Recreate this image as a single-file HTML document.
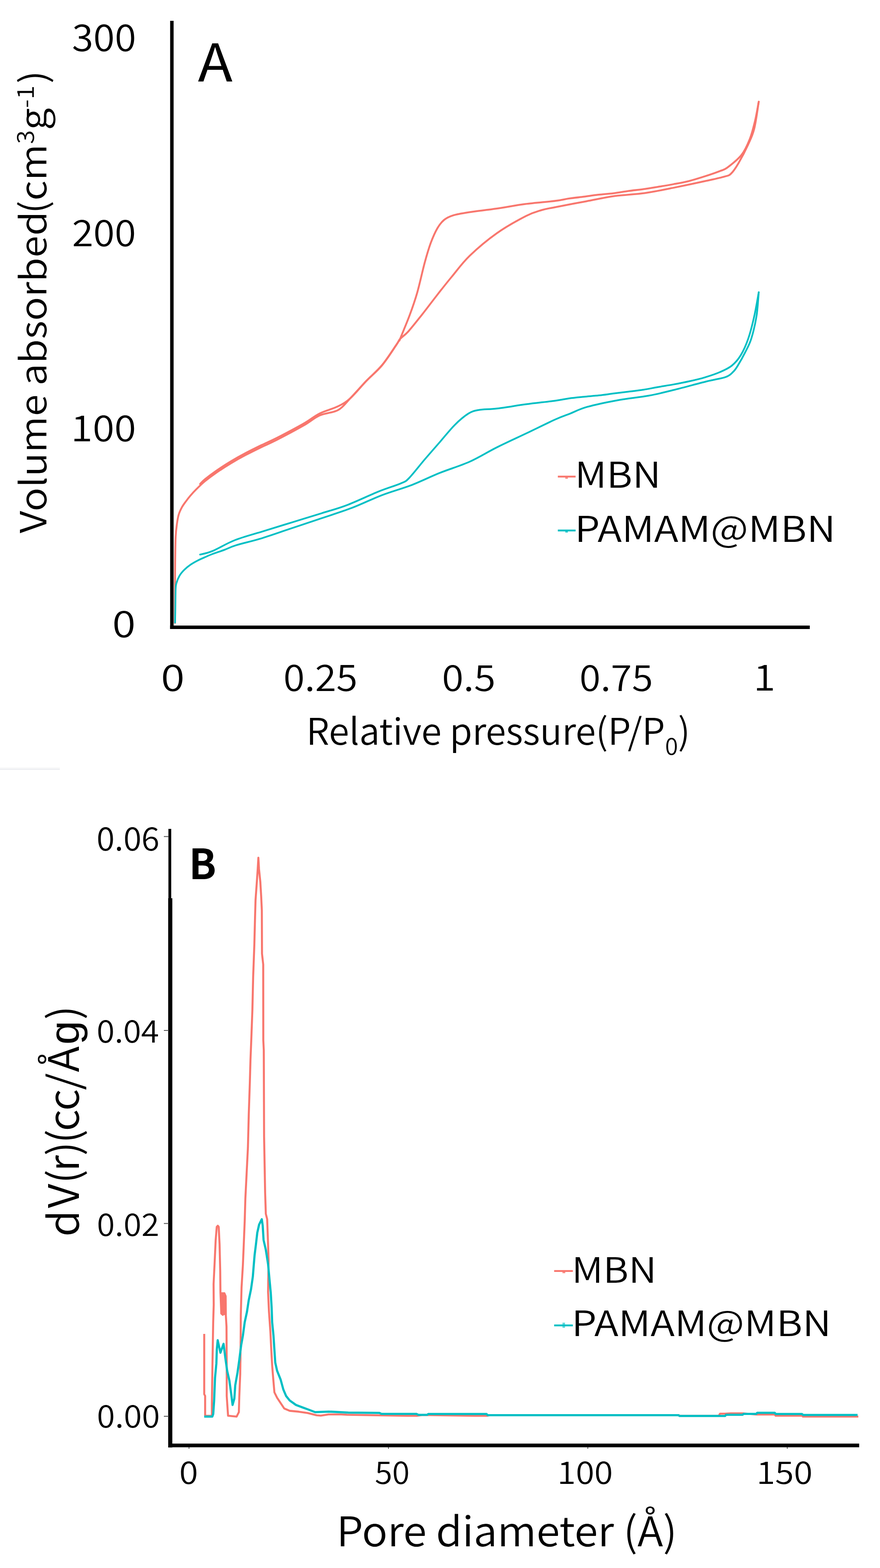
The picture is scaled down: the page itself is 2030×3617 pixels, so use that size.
<!DOCTYPE html>
<html><head><meta charset="utf-8"><title>Figure</title><style>
html,body{margin:0;padding:0;background:#fff;}
svg{display:block;}
text{font-family:"Noto Sans CJK KR","Liberation Sans",sans-serif;fill:#000;}
</style></head><body>
<svg width="2030" height="3617" viewBox="0 0 2030 3617">
<rect x="0" y="0" width="2030" height="3617" fill="#fff"/>
<rect x="0" y="1770" width="138" height="2.5" fill="#f8f8f8"/>
<rect x="0" y="1773" width="138" height="2.8" fill="#eceef1"/>
<rect x="392.5" y="48" width="8" height="1403" fill="#000"/>
<rect x="392.5" y="1443" width="1475.5" height="8" fill="#000"/>
<g fill="none" stroke-linejoin="round" stroke-linecap="round">
<path stroke="#F8766D" stroke-width="4.3" d="M403.5,1437.0 C403.5,1427.5 403.5,1402.8 403.6,1380.0 C403.7,1357.2 403.7,1323.6 404.0,1300.0 C404.3,1276.4 404.5,1254.0 405.2,1238.6 C405.9,1223.2 407.1,1216.2 408.3,1207.5 C409.5,1198.8 410.5,1192.9 412.4,1186.7 C414.3,1180.5 417.1,1174.9 419.7,1170.1 C422.3,1165.3 424.7,1162.2 428.0,1157.7 C431.3,1153.2 435.1,1148.2 439.4,1143.2 C443.7,1138.2 448.4,1133.1 453.9,1127.6 C459.4,1122.1 465.3,1116.1 472.6,1110.1 C479.9,1104.1 487.5,1098.3 497.5,1091.4 C507.5,1084.5 521.4,1075.5 532.8,1068.6 C544.2,1061.7 554.2,1056.1 566.0,1049.9 C577.8,1043.7 591.2,1037.1 603.3,1031.2 C615.4,1025.3 622.5,1022.9 638.6,1014.6 C654.7,1006.4 683.5,991.1 700.0,981.7 C716.5,972.3 724.0,964.2 737.3,958.2 C750.6,952.2 768.2,952.5 780.0,945.9 C791.8,939.3 797.5,929.7 808.3,918.5 C819.1,907.3 832.8,891.5 845.0,878.8 C857.2,866.1 869.8,856.3 881.3,842.5 C892.8,828.7 907.2,805.9 914.1,795.8 C921.0,785.7 918.2,787.2 922.8,782.0 C927.4,776.8 933.4,773.9 941.8,764.7 C950.1,755.5 961.9,740.4 972.9,726.6 C983.9,712.8 996.0,696.4 1007.5,681.7 C1019.0,667.0 1029.3,653.8 1042.0,638.5 C1054.7,623.2 1066.2,606.7 1083.5,590.0 C1100.8,573.3 1124.2,553.5 1145.8,538.2 C1167.4,522.9 1195.9,507.3 1213.2,498.4 C1230.5,489.5 1238.4,488.0 1249.5,484.6 C1260.6,481.2 1262.8,481.5 1280.0,478.1 C1297.2,474.7 1329.5,468.6 1352.6,464.3 C1375.6,460.0 1395.8,455.4 1418.3,452.2 C1440.8,449.0 1464.5,448.6 1487.5,445.3 C1510.5,442.0 1533.0,437.2 1556.6,432.5 C1580.2,427.8 1610.2,421.4 1629.2,417.2 C1648.2,413.0 1661.2,410.3 1670.7,407.5 C1680.2,404.7 1680.8,405.8 1686.3,400.6 C1691.8,395.4 1697.0,387.6 1703.6,376.3 C1710.2,365.1 1720.0,346.4 1726.0,333.1 C1732.0,319.9 1735.9,313.2 1739.9,296.8 C1744.0,280.4 1748.6,245.0 1750.3,234.6"/>
<path stroke="#F8766D" stroke-width="4.3" d="M1750.3,234.6 C1748.8,242.1 1745.1,265.1 1741.6,279.5 C1738.1,293.9 1734.7,308.0 1729.5,321.0 C1724.3,334.0 1719.2,346.4 1710.5,357.3 C1701.8,368.2 1685.9,380.5 1677.6,386.7 C1669.2,392.9 1669.0,391.3 1660.4,394.7 C1651.8,398.1 1637.9,402.9 1625.8,406.8 C1613.7,410.7 1599.8,415.1 1587.7,418.1 C1575.6,421.1 1564.7,422.9 1553.2,425.0 C1541.7,427.1 1530.1,429.0 1518.6,430.9 C1507.1,432.8 1495.5,434.8 1484.0,436.4 C1472.5,438.0 1460.9,439.0 1449.4,440.6 C1437.9,442.2 1426.4,444.4 1414.9,445.8 C1403.4,447.2 1391.5,447.9 1380.3,449.2 C1369.0,450.5 1358.7,452.2 1347.4,453.7 C1336.2,455.1 1324.0,456.3 1312.8,457.9 C1301.6,459.5 1296.9,461.4 1280.0,463.5 C1263.1,465.6 1233.9,467.8 1211.5,470.7 C1189.1,473.6 1167.7,477.9 1145.8,481.1 C1123.9,484.3 1096.8,487.2 1080.1,489.8 C1063.4,492.4 1054.7,493.8 1045.5,496.7 C1036.3,499.6 1030.8,502.1 1024.8,507.0 C1018.8,511.9 1014.4,517.2 1009.2,526.1 C1004.0,535.0 998.5,547.4 993.6,560.6 C988.7,573.9 985.0,586.6 979.8,605.6 C974.6,624.6 968.3,654.6 962.5,674.8 C956.7,695.0 951.8,708.7 945.2,726.6 C938.6,744.5 926.5,772.8 922.8,782.0 C919.1,791.2 924.2,779.7 922.8,782.0 C921.3,784.3 921.0,785.7 914.1,795.8 C907.2,805.9 892.8,828.7 881.3,842.5 C869.8,856.3 857.2,866.1 845.0,878.8 C832.8,891.5 819.1,908.8 808.3,918.5 C797.5,928.2 791.8,931.3 780.0,937.2 C768.2,943.1 750.6,947.1 737.3,953.8 C724.0,960.5 716.5,967.9 700.0,977.3 C683.5,986.7 654.7,1001.9 638.6,1010.2 C622.5,1018.4 615.4,1020.9 603.3,1026.8 C591.2,1032.7 577.8,1039.3 566.0,1045.5 C554.2,1051.7 544.2,1057.3 532.8,1064.2 C521.4,1071.1 507.5,1080.1 497.5,1087.0 C487.5,1093.9 478.6,1100.8 472.6,1105.7 C466.6,1110.6 463.4,1114.7 461.6,1116.5"/>
<path stroke="#00BFC4" stroke-width="4" d="M403.8,1436.3 C403.9,1430.2 404.3,1413.0 404.5,1400.0 C404.7,1387.0 404.8,1367.2 405.2,1358.0 C405.6,1348.8 405.7,1349.5 407.2,1344.6 C408.7,1339.6 411.1,1333.3 414.0,1328.3 C416.9,1323.3 420.6,1319.0 424.9,1314.7 C429.2,1310.4 434.6,1306.0 439.8,1302.4 C445.0,1298.8 450.9,1295.6 456.1,1292.9 C461.3,1290.2 465.4,1288.6 471.1,1286.1 C476.8,1283.6 482.4,1280.9 490.1,1278.0 C497.8,1275.1 508.1,1271.9 517.3,1268.5 C526.4,1265.1 531.1,1261.9 545.0,1257.6 C558.9,1253.3 580.1,1248.8 600.6,1242.6 C621.1,1236.3 645.5,1227.6 668.0,1220.1 C690.5,1212.6 711.5,1205.7 735.4,1197.6 C759.3,1189.5 787.5,1180.8 811.5,1171.7 C835.5,1162.6 856.4,1151.7 879.5,1142.8 C902.6,1133.9 927.9,1127.2 950.4,1118.6 C972.9,1109.9 992.2,1099.8 1014.4,1090.9 C1036.6,1082.0 1061.6,1074.8 1083.5,1065.0 C1105.4,1055.2 1123.9,1043.0 1145.8,1032.1 C1167.7,1021.1 1192.5,1010.0 1214.9,999.3 C1237.3,988.6 1263.4,975.5 1280.0,968.0 C1296.6,960.5 1302.2,959.2 1314.6,954.3 C1327.0,949.4 1335.9,943.9 1354.3,938.7 C1372.7,933.5 1401.6,927.5 1425.2,923.2 C1448.8,918.9 1474.2,916.8 1496.1,912.8 C1518.0,908.8 1534.4,904.5 1556.6,899.0 C1578.8,893.5 1609.6,884.9 1629.2,880.0 C1648.8,875.1 1663.8,873.4 1674.2,869.6 C1684.6,865.9 1686.9,861.8 1691.5,857.5 C1696.1,853.2 1697.2,851.1 1701.8,843.6 C1706.4,836.1 1713.9,822.9 1719.1,812.5 C1724.3,802.1 1728.7,795.2 1733.0,781.4 C1737.3,767.6 1742.2,747.4 1745.1,729.5 C1748.0,711.6 1749.4,683.4 1750.3,674.2"/>
<path stroke="#00BFC4" stroke-width="4" d="M1750.3,674.2 C1748.6,683.4 1744.0,711.6 1739.9,729.5 C1735.9,747.4 1731.2,766.4 1726.0,781.4 C1720.8,796.4 1715.1,809.0 1708.8,819.4 C1702.5,829.8 1696.1,837.1 1688.0,843.6 C1679.9,850.1 1670.8,854.0 1660.4,858.5 C1650.0,863.0 1637.3,867.1 1625.8,870.6 C1614.3,874.1 1603.3,876.6 1591.2,879.3 C1579.1,882.0 1565.3,884.7 1553.2,886.9 C1541.1,889.1 1530.1,890.7 1518.6,892.7 C1507.1,894.7 1495.5,897.2 1484.0,899.0 C1472.5,900.8 1460.6,902.1 1449.4,903.5 C1438.2,904.9 1427.8,906.2 1416.6,907.6 C1405.4,909.0 1393.5,910.8 1382.0,912.1 C1370.5,913.4 1358.9,914.1 1347.4,915.2 C1335.9,916.4 1324.0,917.5 1312.8,919.0 C1301.6,920.5 1296.6,922.1 1280.0,924.4 C1263.4,926.7 1235.3,929.6 1213.2,932.6 C1191.1,935.6 1165.7,940.0 1147.5,942.2 C1129.3,944.4 1115.5,943.7 1104.3,945.7 C1093.1,947.7 1089.3,948.5 1080.1,954.3 C1070.9,960.1 1060.0,969.3 1049.0,980.3 C1038.0,991.2 1025.9,1006.8 1014.4,1020.0 C1002.9,1033.2 991.6,1046.0 979.8,1059.8 C968.0,1073.6 952.7,1093.8 943.5,1103.0 C934.3,1112.2 936.3,1109.9 924.5,1115.1 C912.7,1120.3 893.4,1125.7 872.6,1134.1 C851.9,1142.5 821.7,1157.0 800.0,1165.3 C778.3,1173.6 763.1,1177.2 742.3,1183.8 C721.4,1190.3 697.4,1197.7 674.9,1204.6 C652.4,1211.5 629.7,1218.4 607.5,1225.3 C585.3,1232.2 561.4,1238.3 541.8,1246.0 C522.2,1253.7 503.4,1265.7 490.0,1271.2 C476.6,1276.8 466.3,1278.0 461.6,1279.3"/>
</g>
<rect x="1286.8" y="1097.3" width="41" height="4.2" fill="#F8766D"/>
<rect x="1304" y="1100" width="6" height="4.5" fill="#F8766D" opacity="0.8"/>
<rect x="1286.8" y="1221.6" width="41" height="4.2" fill="#00BFC4"/>
<rect x="1304" y="1224" width="6" height="4.5" fill="#00BFC4" opacity="0.8"/>
<rect x="388.5" y="1912" width="6.5" height="162" fill="#000"/>
<rect x="388" y="2072" width="9.5" height="1267" fill="#000"/>
<rect x="388" y="3330" width="1594" height="8.5" fill="#000"/>
<rect x="378" y="1928.7" width="11" height="2" fill="#555"/>
<rect x="378" y="2376.0" width="11" height="2" fill="#555"/>
<rect x="378" y="2821.3" width="11" height="2" fill="#555"/>
<rect x="378" y="3266.0" width="11" height="2" fill="#555"/>
<rect x="435" y="3338" width="2" height="4" fill="#555"/>
<rect x="895" y="3338" width="2" height="4" fill="#555"/>
<rect x="1355" y="3338" width="2" height="4" fill="#555"/>
<rect x="1815" y="3338" width="2" height="4" fill="#555"/>
<g fill="none" stroke-linejoin="round" stroke-linecap="butt">
<polyline stroke="#F8766D" stroke-width="4.6" points="471.1,3077 471.1,3216 473.2,3220 473.2,3266 488.8,3266 488.8,3236.7 490,3153.7 491.8,3050 493,3010 492.7,2962 495,2915 497.5,2861 500,2830 502.4,2827.5 504.5,2830 506.5,2870 508,2932 508.5,2980 510.5,3030 514,3033 517.5,2983 520.5,2990 521,3035 522.5,3060 523,3155.8 523,3220.1 526.1,3265.8 545.8,3267.8 551,3257.5 552,3222.2 554.1,3170.3 555.1,3100 555.5,3033.4 557.2,2970.1 560.3,2918.3 562.4,2868.5 564.5,2816.6 566,2764.8 568.7,2711.2 571.9,2647.2 573.9,2569.4 576.3,2498.5 577.8,2445 579.6,2400 582.2,2330 584,2253 586.7,2180 588.5,2110 589.5,2076 591,2055 592.5,2034 594.5,2005 596,1978.5 597.5,2005 600.5,2034 602.5,2068 604,2100 604.4,2200 607.2,2225 607.4,2400 608.5,2422.5 609.2,2621.3 611.6,2751 613.2,2800 616.3,2812.4 618.4,2870.5 619.5,2907.9 618.4,2980.5 620.5,3026.1 623.6,3069.7 625.7,3112.2 627.8,3149.6 629.8,3174.5 633,3211.8 639.2,3224.3 647.5,3236.7 655.8,3249.2 668.2,3254.4 689,3256.4 709.7,3259.5 730.5,3264.7 740,3265.5 758,3262.8 787,3262.8 800,3263.5 940,3266 961,3266 975,3264 1095,3266 1123,3266 1130,3264.5 1566,3264.5 1568,3266 1658,3266 1661,3261 1673,3261 1686,3260.2 1714,3260.2 1745,3263 1787,3263 1789,3265.6 1851,3265.6 1852,3267.8 1980,3267.8"/>
<polygon fill="#F8766D" points="508,2981 516.5,2981 521.5,2990 521.5,3034 511.5,3033 508.5,3030"/>
<polyline stroke="#00BFC4" stroke-width="5" points="471.1,3267.8 489.8,3267.8 491.9,3261.6 494,3230.5 496,3178.6 499.1,3145.4 500.2,3112.2 502.2,3091.5 508.5,3120.5 515.7,3099.8 519.9,3133 524,3162 529.2,3184.9 533.4,3216 536.5,3240.9 540.6,3226.3 542.7,3195.2 547.9,3166.2 552,3137.1 556.2,3103.9 560.3,3081.1 564.5,3050 569.7,3026.1 573.8,2999.2 579,2974.3 583.2,2945.2 585.2,2920.3 587.3,2895.4 590.4,2870.5 593.5,2843.6 597.7,2824.9 603.9,2812.4 606,2827 608,2860.2 613.2,2883 618.4,2916.2 621.5,2949.4 624.6,2982.6 626.7,3017.8 627.8,3050 630.9,3081.1 632.9,3112.2 635,3143.4 639.2,3162 647.5,3182.8 653.7,3205.6 659.9,3220.1 668.2,3230.5 682.7,3240.9 699.3,3247.1 710,3251 727,3257.5 758.4,3256.2 803.4,3258.4 875.3,3259.3 879.8,3261.6 960.7,3261.6 965.2,3263.8 985.4,3263.8 987.7,3261.8 1122.5,3261.8 1124.8,3264.5 1565.5,3264.5 1567.5,3266.3 1672.6,3266.3 1674.9,3263.6 1713.1,3263.6 1715.3,3261.4 1744.6,3261.4 1746.8,3259.1 1787.3,3259.1 1789.5,3261.8 1850.2,3261.8 1852.5,3264 1978.3,3264"/>
</g>
<rect x="1278.3" y="2929.8" width="43.2" height="4.2" fill="#F8766D"/>
<rect x="1297.5" y="2932" width="6.5" height="5" fill="#F8766D" opacity="0.8"/>
<rect x="1278.3" y="3055.3" width="43.2" height="4.2" fill="#00BFC4"/>
<rect x="1297.5" y="3051" width="6" height="12" fill="#00BFC4" opacity="0.6"/>
<text transform="matrix(1.0687,0,0,1.0129,166.09,118.49)" font-size="84" font-weight="350">300</text>
<text transform="matrix(1.0654,0,0,1.0000,166.24,568.00)" font-size="84" font-weight="350">200</text>
<text transform="matrix(1.0866,0,0,0.9839,163.59,1018.02)" font-size="84" font-weight="350">100</text>
<text transform="matrix(1.1658,0,0,1.0097,258.94,1469.59)" font-size="84" font-weight="350">0</text>
<text transform="matrix(1.1842,0,0,1.0065,371.26,1593.99)" font-size="84" font-weight="350">0</text>
<text transform="matrix(1.0632,0,0,1.0000,653.75,1594.00)" font-size="84" font-weight="350">0.25</text>
<text transform="matrix(1.0783,0,0,0.9839,1019.39,1593.62)" font-size="84" font-weight="350">0.5</text>
<text transform="matrix(1.0526,0,0,0.9839,1336.79,1593.62)" font-size="84" font-weight="350">0.75</text>
<text transform="matrix(1.1000,0,0,0.9917,1737.90,1593.00)" font-size="84" font-weight="350">1</text>
<text transform="matrix(1.0958,0,0,1.0023,456.60,187.70)" font-size="120">A</text>
<text transform="matrix(1.0027,0,0,0.9952,706.48,1717.60)" font-size="84.5" font-weight="350">Relative pressure(P/P<tspan font-size="54" dy="24">0</tspan><tspan dy="-24">)</tspan></text>
<text transform="matrix(0,-1.0824,0.9855,0,106.50,1230.30)" font-size="84.5" font-weight="350">Volume absorbed<tspan dx="-5">(</tspan>cm<tspan font-size="54" dy="-29">3</tspan><tspan dy="29">g</tspan><tspan font-size="54" dy="-29">-1</tspan><tspan dy="29" dx="3.7">)</tspan></text>
<text transform="matrix(1.1012,0,0,0.9918,1325.89,1125.40)" font-size="83" font-weight="350">MBN</text>
<text transform="matrix(1.1174,0,0,0.9918,1325.76,1250.30)" font-size="83" font-weight="350">PAMAM@MBN</text>
<text transform="matrix(1.0313,0,0,1.0111,222.67,1962.39)" font-size="73.5" font-weight="350">0.06</text>
<text transform="matrix(1.0222,0,0,0.9796,222.91,2404.52)" font-size="73.5" font-weight="350">0.04</text>
<text transform="matrix(1.0218,0,0,0.9722,223.51,2850.53)" font-size="73.5" font-weight="350">0.02</text>
<text transform="matrix(1.0316,0,0,0.9722,223.57,3292.83)" font-size="73.5" font-weight="350">0.00</text>
<text transform="matrix(1.1061,0,0,0.9981,413.58,3422.90)" font-size="71.5" font-weight="350">0</text>
<text transform="matrix(1.0233,0,0,1.0000,864.65,3423.00)" font-size="71.5" font-weight="350">50</text>
<text transform="matrix(1.0889,0,0,1.0038,1285.47,3423.00)" font-size="71.5" font-weight="350">100</text>
<text transform="matrix(1.1009,0,0,1.0038,1744.89,3423.00)" font-size="71.5" font-weight="350">150</text>
<text transform="matrix(0.9566,0,0,0.9861,435.69,2028.00)" font-size="97" font-weight="bold">B</text>
<text transform="matrix(1.0382,0,0,1.0014,776.22,3566.80)" font-size="94.5" font-weight="350">Pore diameter (Å)</text>
<text transform="matrix(0,-1.0331,1.0100,0,181.70,2852.77)" font-size="96" font-weight="350"><tspan dx="0 4.56 0.29 -4.85 -1.26 -4.07 -4.36 -0.97 -2.23 6.6 3.78 1.94">dV(r)(cc/Å<tspan font-family="Liberation Sans">g</tspan>)</tspan></text>
<text transform="matrix(1.1062,0,0,0.9917,1318.65,2958.90)" font-size="81.5" font-weight="350">MBN</text>
<text transform="matrix(1.1324,0,0,0.9933,1318.44,3082.40)" font-size="81.5" font-weight="350">PAMAM@MBN</text>
</svg>
</body></html>
